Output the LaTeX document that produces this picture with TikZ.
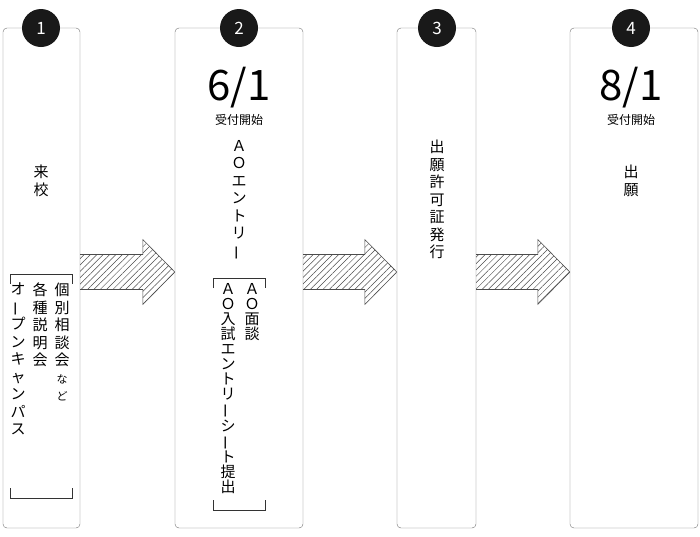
\documentclass[tikz,border=0pt]{standalone}
\usepackage{fontspec}
\setmainfont{Noto Sans CJK JP}
\usetikzlibrary{calc,patterns.meta}

\newcommand{\chobar}{\rotatebox[origin=c]{90}{ー}}
\newcommand{\flowarrow}[2]{%
  \draw[hatch] let \p1=(#1.east), \p2=(#2.west) in
    (\x1,\y1+23.5pt) -- (\x2-32pt,\y1+23.5pt) -- (\x2-32pt,\y1+38.5pt) --
    (\x2,\y1+6pt) -- (\x2-32pt,\y1-26.5pt) -- (\x2-32pt,\y1-11.5pt) --
    (\x1,\y1-11.5pt);}

\tikzset{
    panel/.style={draw=black!55, rounded corners=4pt, minimum height=500pt, inner sep=0pt},
    badge/.style={circle, fill=black!90, text=white, minimum size=38pt, inner sep=0pt, font=\fontsize{17}{17}\selectfont},
    hatch/.style={draw=black!70, line width=0.6pt, pattern={Lines[angle=45,distance=4.5pt,line width=0.5pt]}, pattern color=black!70},
    tate/.style={align=center, inner sep=0pt, anchor=north, font=\fontsize{15}{17.5}\selectfont},
    date/.style={font=\fontsize{42}{42}\selectfont, inner sep=0pt},
    sub/.style={font=\fontsize{12}{12}\selectfont, inner sep=0pt},
    bracket/.style={draw=black!80, line width=0.6pt}
}

\begin{document}
\begin{tikzpicture}[x=1pt, y=-1pt]
    \useasboundingbox (0,0) rectangle (700,536);

    % panels
    \node[panel, minimum width=77pt] (p1) at (41.5,278) {};
    \node[panel, minimum width=128pt] (p2) at (239,278) {};
    \node[panel, minimum width=79pt] (p3) at (436.5,278) {};
    \node[panel, minimum width=128pt] (p4) at (634,278) {};

    \node[badge] (b1) at (41,28) {1};
    \node[badge] (b2) at (239,28) {2};
    \node[badge] (b3) at (437,28) {3};
    \node[badge] (b4) at (631,28) {4};

    % arrows
    \flowarrow{p1}{p2}
    \flowarrow{p2}{p3}
    \flowarrow{p3}{p4}

    % step 1
    \node[tate] (visit) at (41,165) {来\\校};
    \draw[bracket] (10,284) -- (10,274) -- (72,274) -- (72,284);
    \draw[bracket] (10,488) -- (10,498) -- (72,498) -- (72,488);
    \node[tate] (consult) at (62,283) {個\\別\\相\\談\\会\\{\fontsize{11}{13}\selectfont な}\\{\fontsize{11}{13}\selectfont ど}};
    \node[tate] (seminar) at (40,283) {各\\種\\説\\明\\会};
    \node[tate] (campus) at (18,283) {オ\\\chobar\\プ\\ン\\キ\\ャ\\ン\\パ\\ス};

    % step 2
    \node[date] (d2) at (239,88) {6/1};
    \node[sub] (s2) at (239,120) {受付開始};
    \node[tate] (entry) at (239,140) {Ａ\\Ｏ\\エ\\ン\\ト\\リ\\\chobar};
    \draw[bracket] (213,288) -- (213,278) -- (265,278) -- (265,288);
    \draw[bracket] (213,500) -- (213,510) -- (265,510) -- (265,500);
    \node[tate, font=\fontsize{15}{15}\selectfont] (interview) at (252,283) {Ａ\\Ｏ\\面\\談};
    \node[tate, font=\fontsize{15}{15}\selectfont] (sheet) at (228,283) {Ａ\\Ｏ\\入\\試\\エ\\ン\\ト\\リ\\\chobar\\シ\\\chobar\\ト\\提\\出};

    % step 3
    \node[tate] (permit) at (437,140) {出\\願\\許\\可\\証\\発\\行};

    % step 4
    \node[date] (d4) at (631,88) {8/1};
    \node[sub] (s4) at (631,120) {受付開始};
    \node[tate] (apply) at (631,165) {出\\願};
\end{tikzpicture}
\end{document}
